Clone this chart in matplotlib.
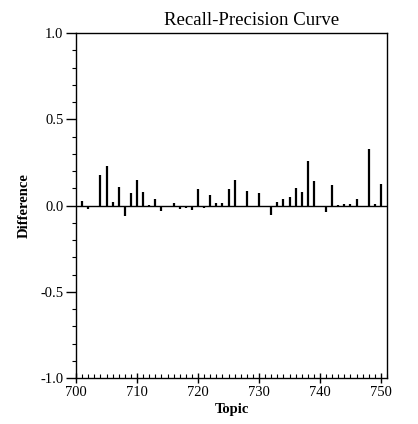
import matplotlib
matplotlib.use("Agg")
import matplotlib.pyplot as plt
from matplotlib.ticker import MultipleLocator, FormatStrFormatter

# topic numbers and the difference per topic
topics = [701, 702, 704, 705, 706, 707, 708, 709, 710, 711, 712, 713, 714,
          716, 717, 718, 719, 720, 721, 722, 723, 724, 725, 726, 728, 730,
          732, 733, 734, 735, 736, 737, 738, 739, 741, 742, 743, 744, 745,
          746, 748, 749, 750]
diffs = [0.028, -0.02, 0.178, 0.228, 0.019, 0.11, -0.062, 0.072, 0.151, 0.077,
         0.006, 0.037, -0.033, 0.013, -0.022, -0.012, -0.028, 0.097, -0.011,
         0.062, 0.014, 0.014, 0.097, 0.147, 0.086, 0.072, -0.054, 0.02, 0.036,
         0.052, 0.1, 0.077, 0.256, 0.142, -0.037, 0.117, 0.004, 0.009, 0.008,
         0.04, 0.33, 0.008, 0.123]

plt.rcParams['font.family'] = ['Liberation Serif', 'DejaVu Serif']

fig = plt.figure(figsize=(4.18, 4.24), dpi=100)
ax = fig.add_axes([0.182, 0.108, 0.744, 0.814])

ax.vlines(topics, 0, diffs, colors='black', linewidth=1.6)
ax.axhline(0, color='black', linewidth=1.0)

ax.set_xlim(700, 751)
ax.set_ylim(-1.0, 1.0)
ax.xaxis.set_major_locator(MultipleLocator(10))
ax.xaxis.set_minor_locator(MultipleLocator(1))
ax.yaxis.set_major_locator(MultipleLocator(0.5))
ax.yaxis.set_minor_locator(MultipleLocator(0.1))
ax.yaxis.set_major_formatter(FormatStrFormatter('%.1f'))

ax.tick_params(axis='x', which='major', direction='inout', length=7, width=1, labelsize=10.5, pad=2)
ax.tick_params(axis='x', which='minor', direction='in', length=3, width=0.8)
ax.tick_params(axis='y', which='major', direction='out', length=7, width=1, labelsize=10.5, pad=2)
ax.tick_params(axis='y', which='minor', direction='out', length=3, width=0.8)
for s in ax.spines.values():
    s.set_linewidth(1.0)

ax.set_xlabel("Topic", fontweight='bold', fontsize=10.5, labelpad=3)
ax.set_ylabel("Difference", fontweight='bold', fontsize=10.5, labelpad=7)
fig.text(0.603, 0.940, "Recall-Precision Curve", ha='center', va='baseline', fontsize=13.5)

plt.savefig('out.png', dpi=100)
